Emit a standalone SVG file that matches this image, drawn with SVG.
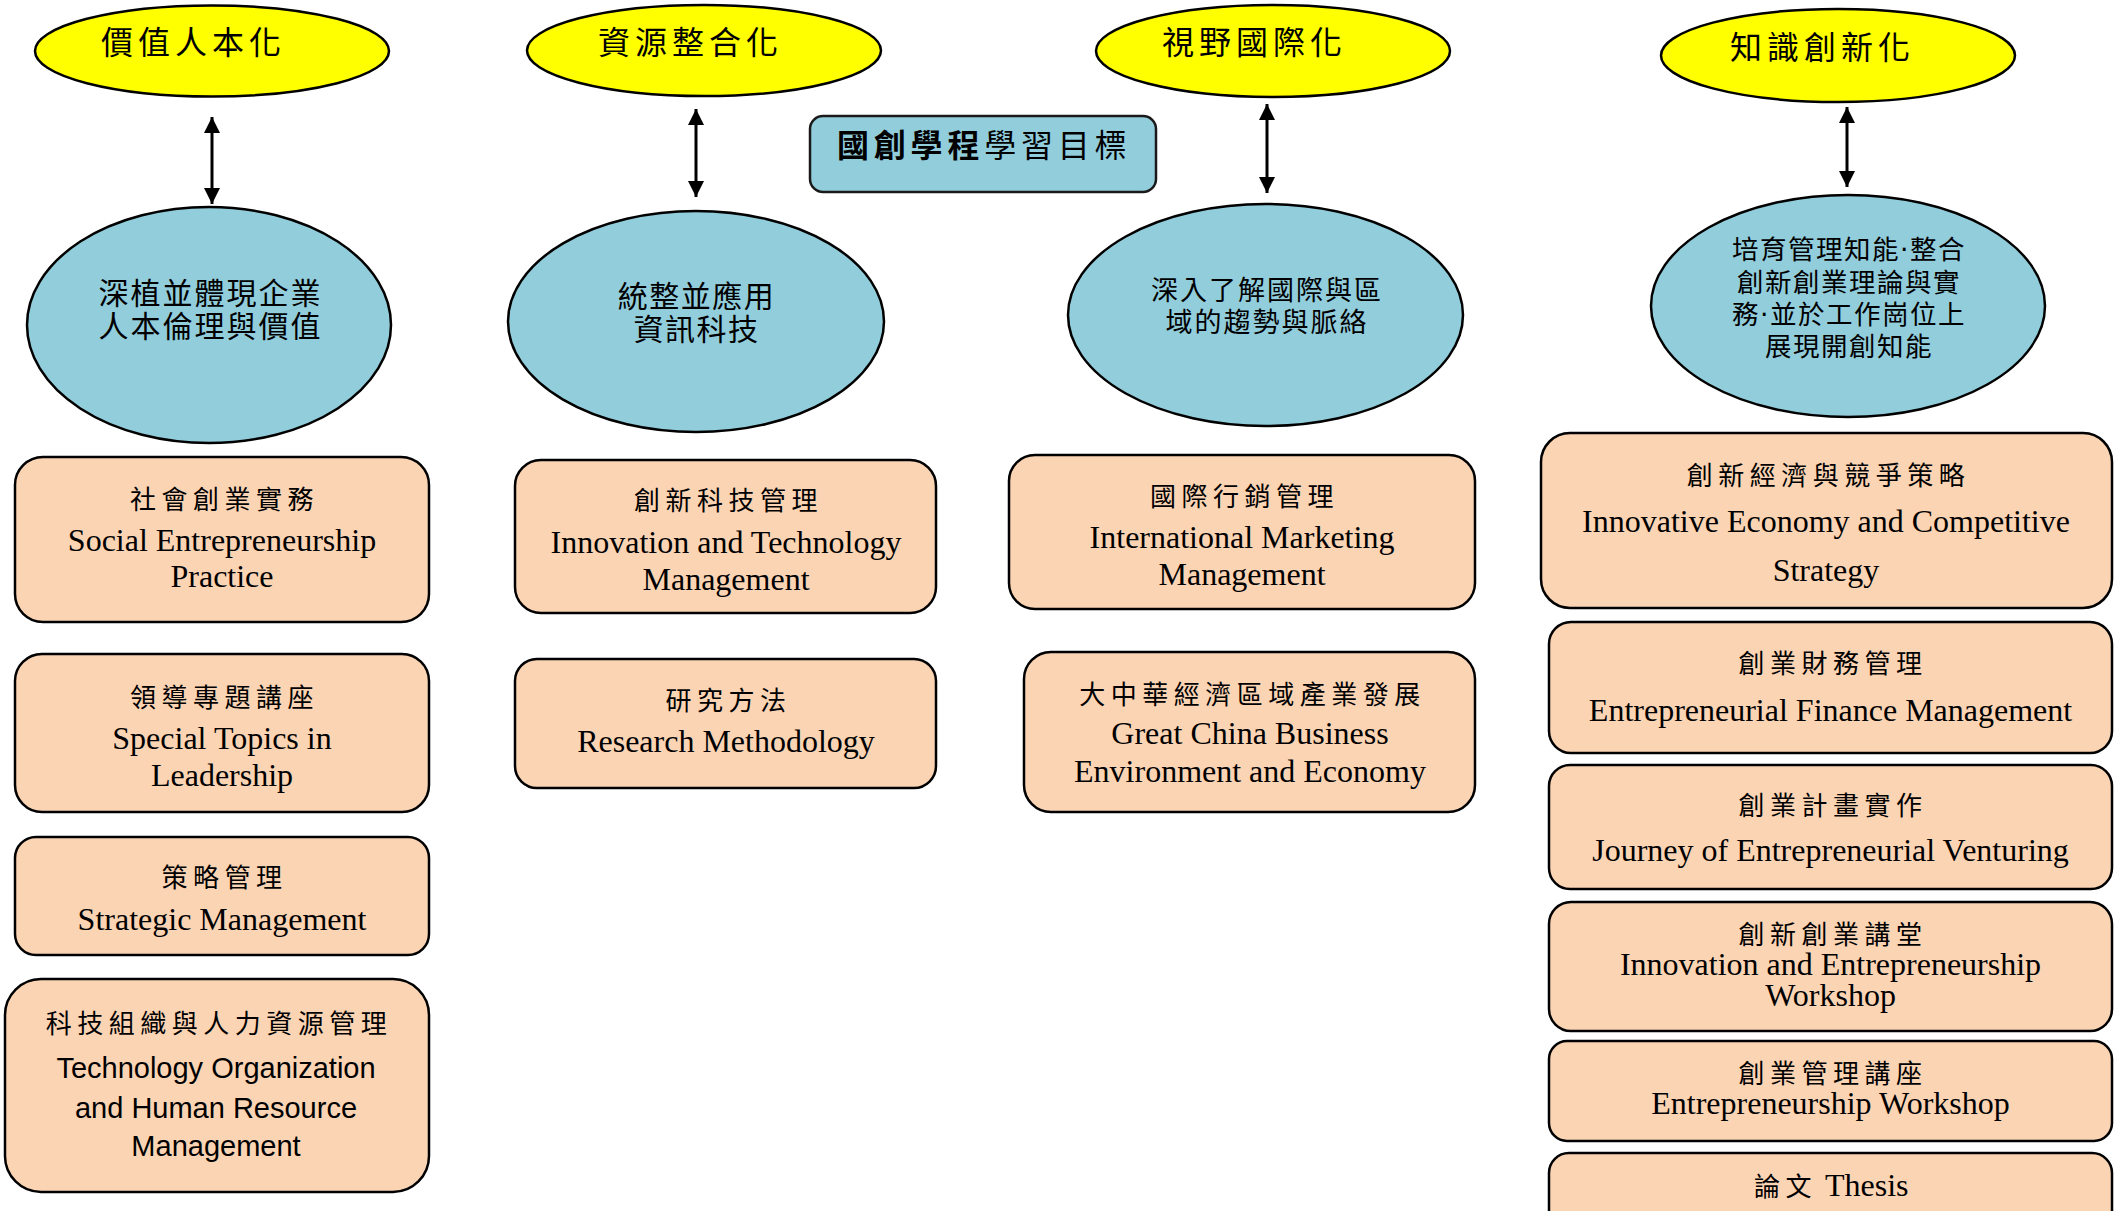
<svg xmlns="http://www.w3.org/2000/svg" width="2116" height="1211" viewBox="0 0 2116 1211">
<defs>
<style>
.goal{fill:#FFFF00;stroke:#000;stroke-width:2.5}
.obj{fill:#92CDDC;stroke:#000;stroke-width:2.5}
.course{fill:#FBD4B4;stroke:#000;stroke-width:2.5}
.titlebox{fill:#92CDDC;stroke:#1a1a1a;stroke-width:2.5}
.zh{font-family:"Noto Sans CJK TC","Noto Sans CJK SC",sans-serif;fill:#000}
.gt{font-size:32px;letter-spacing:5px}
.ot{text-anchor:middle}
.ct{font-size:26px;letter-spacing:5.5px;text-anchor:middle}
.en{font-family:"Liberation Serif","Times New Roman",serif;font-size:32px;text-anchor:middle;fill:#000}
.sans{font-family:"Liberation Sans",Arial,sans-serif;font-size:29px;text-anchor:middle;fill:#000}
.dot{font-family:"DejaVu Sans","Noto Sans CJK TC",sans-serif}
.conn{stroke:#000;stroke-width:3;fill:none;marker-start:url(#ah);marker-end:url(#ah)}
</style>
<marker id="ah" markerUnits="userSpaceOnUse" markerWidth="16" markerHeight="16" refX="16" refY="8" orient="auto-start-reverse" viewBox="0 0 16 16"><path d="M0,0 L16,8 L0,16 z" fill="#000"/></marker>
</defs>
<rect width="2116" height="1211" fill="#fff"/>

<g id="connectors">
<line class="conn" x1="212" y1="117" x2="212" y2="204"/>
<line class="conn" x1="696" y1="109" x2="696" y2="197"/>
<line class="conn" x1="1267" y1="104" x2="1267" y2="193"/>
<line class="conn" x1="1847" y1="107" x2="1847" y2="187"/>
</g>

<g id="goal-1">
<ellipse class="goal" cx="212" cy="51" rx="177" ry="45.5"/>
<text class="zh gt" x="101" y="54">價值人本化</text>
</g>
<g id="goal-2">
<ellipse class="goal" cx="704" cy="50.5" rx="177" ry="45.5"/>
<text class="zh gt" x="598" y="54">資源整合化</text>
</g>
<g id="goal-3">
<ellipse class="goal" cx="1273" cy="51" rx="177" ry="46"/>
<text class="zh gt" x="1162" y="54">視野國際化</text>
</g>
<g id="goal-4">
<ellipse class="goal" cx="1838" cy="55.5" rx="177" ry="46.5"/>
<text class="zh gt" x="1730" y="59">知識創新化</text>
</g>

<g id="title">
<rect class="titlebox" x="810" y="116" width="346" height="76" rx="13"/>
<text class="zh" x="837" y="157" font-size="32" letter-spacing="4.8"><tspan font-weight="700">國創學程</tspan><tspan>學習目標</tspan></text>
</g>

<g id="objective-1">
<ellipse class="obj" cx="209" cy="325" rx="182" ry="118"/>
<text class="zh ot" font-size="30" letter-spacing="2" x="210.5" y="304">深植並體現企業</text>
<text class="zh ot" font-size="30" letter-spacing="2" x="210.5" y="337">人本倫理與價值</text>
</g>
<g id="objective-2">
<ellipse class="obj" cx="696" cy="321.5" rx="188" ry="110.5"/>
<text class="zh ot" font-size="30" letter-spacing="1.5" x="696.5" y="307">統整並應用</text>
<text class="zh ot" font-size="30" letter-spacing="1.5" x="696.5" y="340">資訊科技</text>
</g>
<g id="objective-3">
<ellipse class="obj" cx="1265.5" cy="315" rx="197.5" ry="111"/>
<text class="zh ot" font-size="27" letter-spacing="2" x="1267" y="300">深入了解國際與區</text>
<text class="zh ot" font-size="27" letter-spacing="2" x="1267" y="332">域的趨勢與脈絡</text>
</g>
<g id="objective-4">
<ellipse class="obj" cx="1848" cy="306" rx="197" ry="111"/>
<text class="zh ot" font-size="26.5" letter-spacing="1.5" x="1849" y="259">培育管理知能<tspan class="dot">‧</tspan>整合</text>
<text class="zh ot" font-size="26.5" letter-spacing="1.5" x="1849" y="292">創新創業理論與實</text>
<text class="zh ot" font-size="26.5" letter-spacing="1.5" x="1849" y="324">務<tspan class="dot">‧</tspan>並於工作崗位上</text>
<text class="zh ot" font-size="26.5" letter-spacing="1.5" x="1849" y="356">展現開創知能</text>
</g>

<g id="course-social-entrepreneurship">
<rect class="course" x="15" y="457" width="414" height="165" rx="28"/>
<text class="zh ct" x="224.5" y="509">社會創業實務</text>
<text class="en" x="222" y="551">Social Entrepreneurship</text>
<text class="en" x="222" y="587">Practice</text>
</g>
<g id="course-leadership">
<rect class="course" x="15" y="654" width="414" height="158" rx="27"/>
<text class="zh ct" x="224.5" y="707">領導專題講座</text>
<text class="en" x="222" y="749">Special Topics in</text>
<text class="en" x="222" y="786">Leadership</text>
</g>
<g id="course-strategic">
<rect class="course" x="15" y="837" width="414" height="118" rx="21"/>
<text class="zh ct" x="224.5" y="887">策略管理</text>
<text class="en" x="222" y="930">Strategic Management</text>
</g>
<g id="course-tech-hr">
<rect class="course" x="5" y="979" width="424" height="213" rx="36"/>
<text class="zh ct" x="219" y="1033">科技組織與人力資源管理</text>
<text class="sans" x="216" y="1078">Technology Organization</text>
<text class="sans" x="216" y="1118">and Human Resource</text>
<text class="sans" x="216" y="1156">Management</text>
</g>

<g id="course-innovation-tech">
<rect class="course" x="515" y="460" width="421" height="153" rx="26"/>
<text class="zh ct" x="728.5" y="510">創新科技管理</text>
<text class="en" x="726" y="553">Innovation and Technology</text>
<text class="en" x="726" y="590">Management</text>
</g>
<g id="course-research">
<rect class="course" x="515" y="659" width="421" height="129" rx="22"/>
<text class="zh ct" x="728.5" y="710">研究方法</text>
<text class="en" x="726" y="752">Research Methodology</text>
</g>

<g id="course-intl-marketing">
<rect class="course" x="1009" y="455" width="466" height="154" rx="26"/>
<text class="zh ct" x="1244.5" y="506">國際行銷管理</text>
<text class="en" x="1242" y="548">International Marketing</text>
<text class="en" x="1242" y="585">Management</text>
</g>
<g id="course-great-china">
<rect class="course" x="1024" y="652" width="451" height="160" rx="27"/>
<text class="zh ct" x="1252.5" y="704">大中華經濟區域產業發展</text>
<text class="en" x="1250" y="744">Great China Business</text>
<text class="en" x="1250" y="782">Environment and Economy</text>
</g>

<g id="course-innovative-economy">
<rect class="course" x="1541" y="433" width="571" height="175" rx="29"/>
<text class="zh ct" x="1828.5" y="485">創新經濟與競爭策略</text>
<text class="en" x="1826" y="532">Innovative Economy and Competitive</text>
<text class="en" x="1826" y="581">Strategy</text>
</g>
<g id="course-finance">
<rect class="course" x="1549" y="622" width="563" height="131" rx="22"/>
<text class="zh ct" x="1833" y="673">創業財務管理</text>
<text class="en" x="1830.5" y="721">Entrepreneurial Finance Management</text>
</g>
<g id="course-venturing">
<rect class="course" x="1549" y="765" width="563" height="124" rx="21"/>
<text class="zh ct" x="1833" y="815">創業計畫實作</text>
<text class="en" x="1830.5" y="861">Journey of Entrepreneurial Venturing</text>
</g>
<g id="course-ie-workshop">
<rect class="course" x="1549" y="902" width="563" height="129" rx="22"/>
<text class="zh ct" x="1833" y="944">創新創業講堂</text>
<text class="en" x="1830.5" y="975">Innovation and Entrepreneurship</text>
<text class="en" x="1830.5" y="1006">Workshop</text>
</g>
<g id="course-e-workshop">
<rect class="course" x="1549" y="1041" width="563" height="100" rx="18"/>
<text class="zh ct" x="1833" y="1083">創業管理講座</text>
<text class="en" x="1830.5" y="1114">Entrepreneurship Workshop</text>
</g>
<g id="course-thesis">
<rect class="course" x="1549" y="1153" width="563" height="100" rx="20"/>
<text x="1754" y="1196"><tspan class="zh" font-size="26" letter-spacing="5.5">論文</tspan><tspan font-family="Liberation Serif, serif" font-size="32"> Thesis</tspan></text>
</g>
</svg>
